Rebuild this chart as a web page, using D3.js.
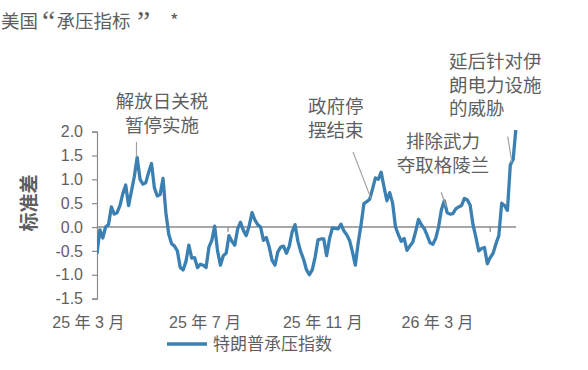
<!DOCTYPE html>
<html>
<head>
<meta charset="utf-8">
<script src="https://cdn.jsdelivr.net/npm/d3@7"></script>
<style>
  html, body { margin: 0; padding: 0; background: #fff; }
  svg { display: block; font-family: "Liberation Sans", Arial, "Noto Sans CJK SC", sans-serif; }
</style>
</head>
<body>
<div id="chart"></div>
<script>
"use strict";

// ── Data ──────────────────────────────────────────────────────────────────────
const startDate = new Date(2025, 2, 10);   // first observation
const endDate   = new Date(2026, 4, 23);   // right edge of plot
const stepDays  = 3;                       // sampling interval of the series

// 特朗普承压指数 (standard deviations)
const stressIndex = [
  -0.56, -0.06, -0.23,  0.00,  0.05,  0.42,  0.27,  0.30,  0.45,  0.70,
   0.88,  0.45,  0.75,  1.06,  1.46,  1.00,  0.90,  0.93,  1.15,  1.33,
   0.82,  0.65,  0.68,  1.02,  0.30, -0.15, -0.35, -0.40, -0.50, -0.85,
  -0.90, -0.72, -0.38, -0.65, -0.64, -0.85, -0.78, -0.80, -0.85, -0.42,
  -0.28,  0.02, -0.50, -0.80, -0.60, -0.55, -0.18, -0.30, -0.38, -0.04,
   0.10, -0.07, -0.18,  0.02,  0.30,  0.15,  0.05,  0.00, -0.28, -0.22,
  -0.42, -0.70, -0.80, -0.52, -0.42, -0.40, -0.55, -0.40, -0.10,  0.05,
  -0.30, -0.52, -0.68, -0.90, -1.00, -0.90, -0.63, -0.27, -0.25, -0.25,
  -0.60, -0.25, -0.02, -0.03, -0.04,  0.06, -0.08, -0.16, -0.28, -0.52,
  -0.80, -0.33,  0.05,  0.49,  0.53,  0.58,  0.80,  1.03,  1.00,  1.15,
   0.84,  0.55,  0.72,  0.50,  0.00, -0.16, -0.30, -0.24, -0.49, -0.40,
  -0.32, -0.10,  0.16,  0.05, -0.03, -0.17, -0.33, -0.36, -0.24,  0.00,
   0.36,  0.55,  0.30,  0.27,  0.28,  0.38,  0.42,  0.45,  0.60,  0.57,
   0.46,  0.05, -0.21, -0.50, -0.45, -0.43, -0.77, -0.64, -0.55, -0.35,
  -0.18,  0.50,  0.45,  0.35,  1.30,  1.42,  2.10
];

const tickDates  = [new Date(2025, 2, 1), new Date(2025, 6, 1), new Date(2025, 10, 1), new Date(2026, 2, 1)];
const tickLabels = ["25 年 3 月", "25 年 7 月", "25 年 11 月", "26 年 3 月"];
const minorTicks = [new Date(2025, 6, 25), new Date(2026, 3, 25)];
const yTicks     = [-1.5, -1.0, -0.5, 0.0, 0.5, 1.0, 1.5, 2.0];

// title pieces with their left edge (wide quote spacing as in the source)
const titleParts = [["美国", 1], ["“", 42], ["承压指标", 56.5], ["”", 137], ["*", 170]];
const yLabelText = "标准差";
const legendText = "特朗普承压指数";

// callouts: series index they point at + text layout
const annotations = [
  { lines: ["解放日关税", "暂停实施"],             idx: 14,  x: 162, y: 108, anchor: "middle", lead: [-0.7, -15.5, -0.7, 0] },
  { lines: ["政府停", "摆结束"],                   idx: 95,  x: 308, y: 113, anchor: "start",  lead: [-16.7, -47.5, 1.3, -1] },
  { lines: ["排除武力", "夺取格陵兰"],             idx: 122, x: 443, y: 148, anchor: "middle", lead: [-6, -20.5, -1, -6] },
  { lines: ["延后针对伊", "朗电力设施", "的威胁"], idx: 144, x: 449, y: 68,  anchor: "start",  lead: [-2.6, -28.5, 1.6, -2.4] }
];

// ── Layout ────────────────────────────────────────────────────────────────────
const W = 588, H = 370;
const plotL = 97, plotR = 517;
const plotT = 131.6, plotB = 298.6;

const colLine = "#3a80b2";
const colText = "#5f5f5f";
const colAxis = "#8a8a8a";

const dates = stressIndex.map((_, i) => d3.timeDay.offset(startDate, i * stepDays));

const x = d3.scaleTime().domain([startDate, endDate]).range([plotL, plotR]);
const y = d3.scaleLinear().domain([-1.5, 2.0]).range([plotB, plotT]);

const svg = d3.select("#chart").append("svg")
  .attr("width", W)
  .attr("height", H);

svg.append("defs").append("clipPath").attr("id", "plot-clip")
  .append("rect")
  .attr("x", plotL).attr("y", plotT - 1.5)
  .attr("width", plotR - plotL + 4).attr("height", plotB - plotT + 10);

// ── Title ──
const title = svg.append("text")
  .attr("y", 28)
  .attr("fill", colText)
  .style("font-family", "\"Noto Sans CJK SC\", sans-serif")
  .style("font-size", "18.5px");
titleParts.forEach(([s, px]) => {
  const isQuote = s === "“" || s === "”";
  title.append("tspan")
    .attr("x", px)
    .attr("dy", isQuote ? 3 : (px === 56.5 || px === 170 ? -3 : 0))
    .style("font-family", isQuote ? "\"Liberation Serif\", serif" : null)
    .style("font-size", isQuote ? "30px" : null)
    .text(s);
});

// ── Y axis ──
const yAxis = svg.append("g")
  .attr("transform", `translate(${plotL},0)`)
  .call(d3.axisLeft(y).tickValues(yTicks).tickSize(5).tickPadding(9)
    .tickFormat((d) => d.toFixed(1)));

yAxis.select(".domain").attr("stroke", colAxis).attr("stroke-width", 1.2);
yAxis.selectAll(".tick line").attr("stroke", colAxis).attr("stroke-width", 1.2);
yAxis.selectAll(".tick text")
  .attr("fill", colText)
  .style("font-size", "16px")
  .style("font-family", "\"Liberation Sans\", Arial, sans-serif");

svg.append("text")
  .attr("transform", `translate(36,${(plotT + plotB) / 2 - 12}) rotate(-90)`)
  .attr("text-anchor", "middle")
  .attr("fill", colText)
  .style("font-size", "19px")
  .style("font-weight", "bold")
  .text(yLabelText);

// ── Zero line + small x ticks ──
svg.append("line")
  .attr("x1", plotL).attr("x2", plotR - 1)
  .attr("y1", y(0)).attr("y2", y(0))
  .attr("stroke", colAxis).attr("stroke-width", 1.6);

svg.selectAll("line.minor")
  .data(minorTicks)
  .join("line")
  .attr("class", "minor")
  .attr("x1", (d) => x(d)).attr("x2", (d) => x(d))
  .attr("y1", y(0)).attr("y2", y(0) + 5)
  .attr("stroke", colAxis).attr("stroke-width", 1.2);

// ── X labels ──
svg.selectAll("text.xlab")
  .data(tickDates)
  .join("text")
  .attr("class", "xlab")
  .attr("x", (d) => x(d))
  .attr("y", 328)
  .attr("text-anchor", "middle")
  .attr("fill", colText)
  .style("font-size", "16px")
  .text((d, i) => tickLabels[i]);

// ── Series ──
const line = d3.line()
  .x((d, i) => x(dates[i]))
  .y((d) => y(d))
  .curve(d3.curveLinear);

svg.append("path")
  .datum(stressIndex)
  .attr("clip-path", "url(#plot-clip)")
  .attr("fill", "none")
  .attr("stroke", colLine)
  .attr("stroke-width", 3.3)
  .attr("stroke-linejoin", "round")
  .attr("d", line);

// ── Annotations ──
annotations.forEach((a) => {
  const px = x(dates[a.idx]);
  const py = y(stressIndex[a.idx]);

  svg.append("line")
    .attr("x1", px + a.lead[0]).attr("y1", py + a.lead[1])
    .attr("x2", px + a.lead[2]).attr("y2", py + a.lead[3])
    .attr("stroke", "#a0a0a0").attr("stroke-width", 1.2);

  const t = svg.append("text")
    .attr("text-anchor", a.anchor)
    .attr("fill", colText)
    .style("font-family", "\"Noto Sans CJK SC\", sans-serif")
    .style("font-size", "18.5px");

  a.lines.forEach((s, k) => {
    t.append("tspan")
      .attr("x", a.x)
      .attr("y", a.y + k * 23.5)
      .text(s);
  });
});

// ── Legend ──
svg.append("line")
  .attr("x1", 167).attr("x2", 207)
  .attr("y1", 344).attr("y2", 344)
  .attr("stroke", colLine).attr("stroke-width", 3.5);

svg.append("text")
  .attr("x", 213).attr("y", 350)
  .attr("fill", colText)
  .style("font-family", "\"Noto Sans CJK SC\", sans-serif")
  .style("font-size", "17px")
  .text(legendText);
</script>
</body>
</html>
